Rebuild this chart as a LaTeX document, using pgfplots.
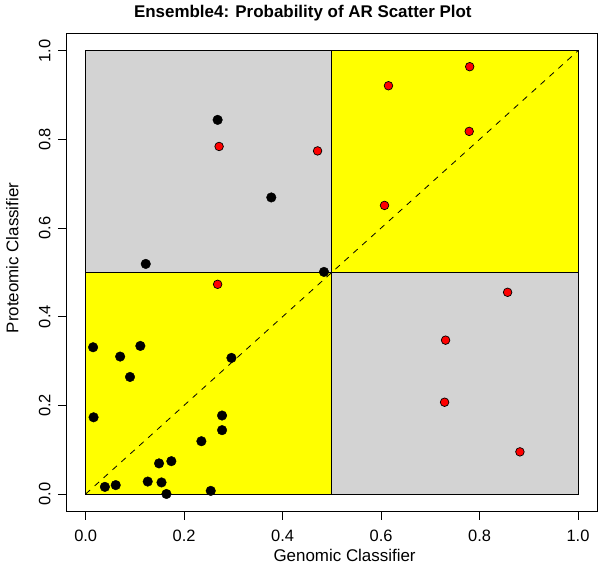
\documentclass[border=0pt]{standalone}
\usepackage{pgfplots}
\pgfplotsset{compat=1.18}
\usepackage{fontspec}
\setmainfont{Liberation Sans}
\definecolor{rgray}{HTML}{D3D3D3}
\definecolor{ryellow}{HTML}{FFFF00}
\begin{document}
\begin{tikzpicture}
\begin{axis}[
  scale only axis,
  width=531.7bp, height=478.7bp,
  xmin=-0.04, xmax=1.04, ymin=-0.04, ymax=1.04,
  xtick={0,0.2,0.4,0.6,0.8,1.0},
  ytick={0,0.2,0.4,0.6,0.8,1.0},
  tick pos=left,
  tick align=outside,
  major tick length=8bp,
  tick style={black, line width=0.8bp},
  axis line style={black, line width=0.8bp},
  /pgf/number format/assume math mode=true,
  /pgf/number format/fixed, /pgf/number format/fixed zerofill, /pgf/number format/precision=1,
  ticklabel style={font=\fontsize{16.5}{18}\selectfont},
  xticklabel style={yshift=-7bp},
  yticklabel style={xshift=-4bp, rotate=90, anchor=south},
  every axis title shift=0pt,
  title={Ensemble4: Probability of AR Scatter Plot},
  title style={font=\fontsize{17}{20}\selectfont\bfseries, at={(axis description cs:0.4455,1.0328)}, anchor=base},
  xlabel={Genomic Classifier},
  xlabel style={font=\fontsize{17}{20}\selectfont, at={(axis description cs:0.524,-0.105)}, anchor=base},
  ylabel={Proteomic Classifier},
  ylabel style={font=\fontsize{17}{20}\selectfont, at={(axis description cs:-0.0897,0.53)}, anchor=base, rotate=0},
  clip=false,
]
\addplot[fill=rgray, draw=black, line width=0.8bp] coordinates {(0,0.5) (0.5,0.5) (0.5,1) (0,1)} --cycle;
\addplot[fill=ryellow, draw=black, line width=0.8bp] coordinates {(0.5,0.5) (1,0.5) (1,1) (0.5,1)} --cycle;
\addplot[fill=ryellow, draw=black, line width=0.8bp] coordinates {(0,0) (0.5,0) (0.5,0.5) (0,0.5)} --cycle;
\addplot[fill=rgray, draw=black, line width=0.8bp] coordinates {(0.5,0) (1,0) (1,0.5) (0.5,0.5)} --cycle;
\addplot[black, line width=0.8bp, dash pattern=on 6bp off 6bp] coordinates {(0,0) (1,1)};
\addplot[only marks, mark=*, mark size=4.8bp, black, mark options={fill=black, draw=black}] coordinates {
(0.268,0.844) (0.377,0.669) (0.122,0.519) (0.484,0.501) (0.015,0.331)
(0.070,0.310) (0.111,0.334) (0.090,0.264) (0.296,0.307) (0.016,0.173)
(0.277,0.177) (0.277,0.144) (0.235,0.119) (0.149,0.069) (0.174,0.074)
(0.039,0.016) (0.061,0.020) (0.126,0.028) (0.154,0.026) (0.164,0.000)
(0.254,0.007)
};
\addplot[only marks, mark=*, mark size=4.3bp, mark options={fill=red, draw=black, line width=0.7bp}] coordinates {
(0.271,0.784) (0.471,0.774) (0.268,0.473) (0.780,0.964) (0.615,0.921)
(0.779,0.818) (0.607,0.651) (0.857,0.455) (0.731,0.347) (0.729,0.207)
(0.882,0.095)
};
\end{axis}
\pgfresetboundingbox
\useasboundingbox ([shift={(-66bp,-54.3bp)}]current axis.south west) rectangle ([shift={(2.3bp,33bp)}]current axis.north east);
\end{tikzpicture}
\end{document}
